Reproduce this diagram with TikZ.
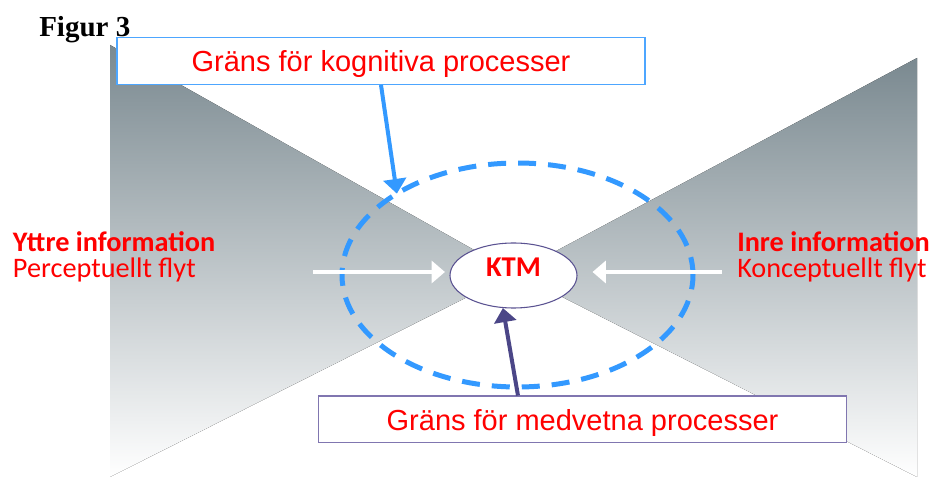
\documentclass[tikz,border=0pt]{standalone}
\usepackage{fontspec}
\setmainfont{Liberation Sans}
\newfontfamily\carlito{Carlito}
\newfontfamily\timesfont{Liberation Serif}
\usetikzlibrary{shapes.geometric,arrows.meta}
\definecolor{bowgray}{RGB}{122,137,144}
\definecolor{boxblue}{RGB}{77,166,255}
\definecolor{boxlila}{RGB}{128,118,176}
\definecolor{dashblue}{RGB}{51,153,255}
\definecolor{ktmlila}{RGB}{90,82,145}
\definecolor{pillila}{RGB}{75,70,135}
\tikzset{
	gransbox/.style={draw, line width=1pt, fill=white, minimum width=396pt, minimum height=35pt, inner sep=0pt, text height=19pt, text depth=2.5pt, text=red, font=\fontsize{21.75}{24}\selectfont},
	infotext/.style={anchor=base west, inner sep=0pt, align=left, text=red, font=\carlito\fontsize{21.2}{19.5}\selectfont},
	vitpil/.style={draw=white, line width=3pt, -{Triangle[length=10pt,width=16.5pt]}},
	kognpil/.style={draw=dashblue, line width=3pt, -{Triangle[length=11pt,width=17pt]}},
	medvpil/.style={draw=pillila, line width=3pt, -{Triangle[length=10.5pt,width=16.5pt]}},
}
\begin{document}
\begin{tikzpicture}[x=7.5pt,y=-7.5pt]
	\useasboundingbox (0,0) rectangle (93.6,47.7);
	\fill[top color=bowgray, bottom color=white] (11,4.5) -- (51.5,27.3) -- (11,47.7) -- cycle;
	\fill[top color=bowgray, bottom color=white] (91.7,5.8) -- (51.5,27.3) -- (91.7,47.7) -- cycle;
	\node[anchor=base west, inner sep=0pt, font=\timesfont\bfseries\fontsize{21.75}{24}\selectfont] (figur) at (3.9,3.7) {Figur 3};
	\node[ellipse, draw=dashblue, line width=3.75pt, dash pattern=on 13.5pt off 9pt, minimum width=263.25pt, minimum height=168pt, inner sep=0pt, outer sep=0pt] (grans) at (51.75,27.5) {};
	\node[ellipse, draw=ktmlila, fill=white, line width=0.8pt, minimum width=95.25pt, minimum height=48.75pt, inner sep=0pt, text=red, text height=13.6pt, text depth=11.35pt, font=\carlito\bfseries\fontsize{21.5}{22}\selectfont] (ktm) at (51.35,27.55) {KTM};
	\node[infotext] (yttre) at (1.27,27.8) {\textbf{Yttre information}\\Perceptuellt flyt};
	\node[infotext] (inre) at (73.7,27.8) {\textbf{Inre information}\\Konceptuellt flyt};
	\coordinate (yttrepil) at (31.3,27.2);
	\coordinate (inrepil) at (72.2,27.2);
	\draw[vitpil, shorten >=3.4pt] (yttrepil) -- (yttrepil -| ktm.west);
	\draw[vitpil, shorten >=11.25pt] (inrepil) -- (inrepil -| ktm.east);
	\node[gransbox, draw=boxblue] (kogn) at (38.1,6.1) {Gräns för kognitiva processer};
	\node[gransbox, draw=boxlila] (medv) at (58.25,41.95) {Gräns för medvetna processer};
	\draw[kognpil] (kogn.south) -- (grans.146);
	\draw[medvpil] ([xshift=-48.4pt]medv.north) -- (ktm.-108);
\end{tikzpicture}
\end{document}
